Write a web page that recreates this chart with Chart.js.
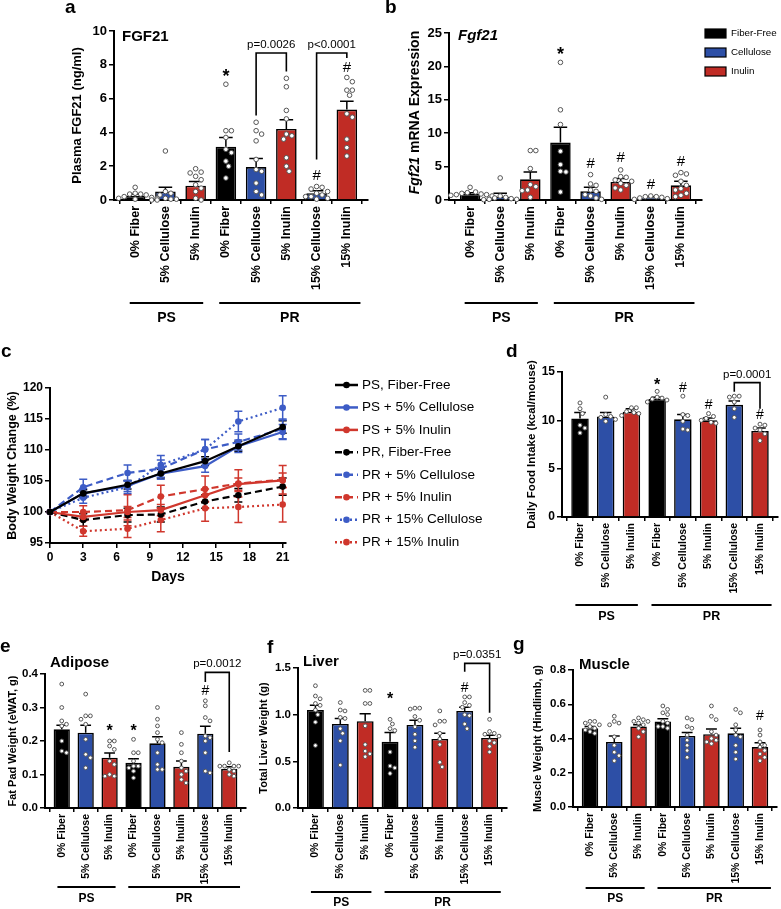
<!DOCTYPE html>
<html><head><meta charset="utf-8">
<script src="https://cdn.jsdelivr.net/npm/chart.js@4.4.1/dist/chart.umd.min.js"></script>
<style>
html,body{margin:0;padding:0;background:#fff;}
#wrap{position:relative;width:781px;height:909px;overflow:hidden;background:#fff;}
canvas{position:absolute;}
</style></head><body><div id="wrap"></div>
<script>
// ================= DATA =================
const groupLabels = ['0% Fiber','5% Cellulose','5% Inulin','0% Fiber','5% Cellulose','5% Inulin','15% Cellulose','15% Inulin'];
const dietLabels = ['PS','PR'];
const fiberLegend = ['Fiber-Free','Cellulose','Inulin'];

// (a) Plasma FGF21 (ng/ml)
const fgf21Mean = [0.25,0.5,0.85,3.15,1.95,4.2,0.4,5.35];
const fgf21Sem  = [0.1,0.25,0.25,0.55,0.5,0.55,0.15,0.5];
const fgf21Dots = [
  [0.75,0.4,0.35,0.35,0.3,0.2,0.15,0.1,0.05,0.1],
  [2.9,0.5,0.4,0.3,0.1,0.05,0.0,0.05,0.0],
  [1.85,1.65,1.6,1.4,1.2,0.9,0.7,0.5,0.1,0.0],
  [6.85,4.1,4.1,3.7,3.0,2.8,2.3,2.0,1.3],
  [4.6,4.1,3.9,3.5,2.4,1.8,1.7,1.0,0.5,0.3],
  [7.2,6.7,5.3,4.8,3.9,3.8,3.6,2.5,2.0,1.7],
  [0.8,0.75,0.65,0.5,0.4,0.3,0.2,0.2,0.1,0.05],
  [7.25,7.0,6.5,6.5,6.2,5.1,4.9,3.6,3.1,2.6]];
const fgf21Marks = [{g:3,t:'*',v:7.55},{g:6,t:'#',v:1.5},{g:7,t:'#',v:7.9}];
const fgf21Pvals = [{g1:4,g2:5,top:8.7,l:5.0,r:7.6,text:'p=0.0026'},{g1:6,g2:7,top:8.7,l:2.4,r:8.4,text:'p<0.0001'}];

// (b) Fgf21 mRNA expression
const mrnaMean = [0.9,0.5,3.1,8.6,1.3,2.7,0.35,2.2];
const mrnaSem  = [0.2,0.5,1.1,2.3,0.6,0.5,0.15,0.6];
const mrnaDots = [
  [1.9,1.2,1.1,1.0,0.9,0.8,0.8,0.7,0.6,0.5],
  [3.3,0.6,0.4,0.3,0.2,0.1,0.1,0.05],
  [7.4,7.4,4.7,2.3,2.0,1.5,1.4,0.4],
  [20.6,13.5,11.3,7.3,5.3,4.3,4.2,1.2],
  [3.8,2.4,2.2,1.5,1.3,0.8,0.6,0.3,0.1],
  [4.5,3.5,3.4,3.0,2.8,2.5,2.2,1.8,1.5],
  [0.6,0.5,0.5,0.4,0.3,0.2,0.1],
  [4.1,3.9,3.7,2.8,2.2,1.7,1.5,1.0,0.7,0.5]];
const mrnaMarks = [{g:3,t:'*',v:22.4},{g:4,t:'#',v:5.6},{g:5,t:'#',v:6.5},{g:6,t:'#',v:2.5},{g:7,t:'#',v:5.9}];

// (c) Body weight change (%)
const days = [0,3,7,10,14,17,21];
const bwSeriesNames = ['PS, Fiber-Free','PS + 5% Cellulose','PS + 5% Inulin','PR, Fiber-Free','PR + 5% Cellulose','PR + 5% Inulin','PR + 15% Cellulose','PR + 15% Inulin'];
const bwPSFiberFree = [100,103.0,104.4,106.2,108.2,110.6,113.7];
const bwPSCell5     = [100,103.0,104.2,106.2,107.4,110.6,112.9];
const bwPSInulin5   = [100,99.2,100.0,100.3,102.7,104.5,105.1];
const bwPRFiberFree = [100,98.7,99.5,99.6,101.7,102.7,104.1];
const bwPRCell5     = [100,104.0,106.3,107.0,110.1,111.3,113.4];
const bwPRInulin5   = [100,100.0,100.3,102.5,103.7,104.6,105.2];
const bwPRCell15    = [100,102.3,104.0,107.6,110.1,114.6,116.8];
const bwPRInulin15  = [100,96.9,97.3,98.7,100.6,100.8,101.2];
const bwErrPSFiberFree = [0,0.6,0.7,0.7,0.7,0.8,1.0];
const bwErrPSCell5     = [0,0.8,0.9,0.9,1.0,1.0,1.2];
const bwErrPSInulin5   = [0,0.6,0.9,0.9,1.0,1.0,1.2];
const bwErrPRFiberFree = [0,1.0,1.1,1.2,1.1,1.1,1.4];
const bwErrPRCell5     = [0,1.3,1.3,1.4,1.6,1.3,1.6];
const bwErrPRInulin5   = [0,1.0,2.5,1.8,2.1,2.2,2.3];
const bwErrPRCell15    = [0,0.9,1.0,1.5,1.6,1.65,1.95];
const bwErrPRInulin15  = [0,0.8,1.4,1.9,2.1,2.5,2.8];

// (d) Daily food intake (kcal/mouse)
const intakeMean = [10.2,10.4,10.9,12.2,10.1,10.0,11.6,8.9];
const intakeSem  = [0.6,0.4,0.3,0.2,0.5,0.25,0.4,0.3];
const intakeDots = [
  [11.8,11.2,10.7,9.5,9.2,8.7],
  [12.4,10.6,10.4,10.3,10.1,9.9],
  [11.3,11.3,10.9,10.8,10.7,10.5],
  [13.0,12.4,12.3,12.2,12.1,11.9],
  [12.5,10.6,10.5,9.9,9.1,9.0],
  [10.7,10.4,10.2,10.0,9.8,9.7],
  [12.5,12.5,12.4,11.9,11.2,10.3],
  [9.6,9.5,9.2,9.0,8.6,7.9]];
const intakeMarks = [{g:3,t:'*',v:14.0},{g:4,t:'#',v:13.5},{g:5,t:'#',v:11.7},{g:7,t:'#',v:10.7}];
const intakePvals = [{g1:6,g2:7,top:13.9,l:12.95,r:11.2,text:'p=0.0001'}];

// (e) Fat pad weight (eWAT, g)
const fatMean = [0.235,0.225,0.15,0.135,0.193,0.123,0.222,0.117];
const fatSem  = [0.012,0.022,0.014,0.012,0.02,0.017,0.022,0.006];
const fatDots = [
  [0.37,0.30,0.26,0.25,0.245,0.2,0.17,0.165],
  [0.34,0.275,0.275,0.265,0.25,0.205,0.16,0.15,0.12],
  [0.2,0.2,0.185,0.175,0.14,0.13,0.095,0.095,0.1],
  [0.205,0.165,0.165,0.14,0.125,0.125,0.11,0.09,0.12],
  [0.3,0.265,0.245,0.225,0.205,0.195,0.165,0.13,0.115,0.115],
  [0.225,0.19,0.165,0.14,0.12,0.11,0.1,0.085,0.075],
  [0.32,0.305,0.27,0.26,0.215,0.21,0.2,0.165,0.11,0.105],
  [0.135,0.125,0.125,0.125,0.125,0.115,0.11,0.1,0.095]];
const fatMarks = [{g:2,t:'*',v:0.24},{g:3,t:'*',v:0.24},{g:6,t:'#',v:0.352}];
const fatPvals = [{g1:6,g2:7,top:0.405,l:0.376,r:0.167,text:'p=0.0012'}];

// (f) Total liver weight (g)
const liverMean = [1.05,0.9,0.93,0.71,0.89,0.74,1.04,0.75];
const liverSem  = [0.05,0.06,0.08,0.1,0.05,0.06,0.04,0.03];
const liverDots = [
  [1.31,1.2,1.17,1.12,1.1,1.05,1.0,0.92,0.67],
  [1.13,1.05,1.04,0.97,0.96,0.85,0.8,0.72,0.46],
  [1.26,1.26,1.12,1.12,0.88,0.68,0.61,0.55,0.58],
  [0.95,0.9,0.85,0.83,0.6,0.45,0.43,0.37],
  [1.07,1.07,1.06,0.98,0.94,0.87,0.79,0.72,0.65],
  [1.04,0.93,0.93,0.89,0.8,0.74,0.68,0.49,0.44],
  [1.19,1.19,1.13,1.1,1.08,1.0,0.99,0.9,0.85],
  [0.95,0.82,0.8,0.79,0.77,0.72,0.7,0.66,0.6]];
const liverMarks = [{g:3,t:'*',v:1.21},{g:6,t:'#',v:1.3}];
const liverPvals = [{g1:6,g2:7,top:1.55,l:1.46,r:1.02,text:'p=0.0351'}];

// (g) Muscle weight (hindlimb, g)
const muscleMean = [0.46,0.38,0.47,0.50,0.415,0.425,0.43,0.35];
const muscleSem  = [0.01,0.035,0.01,0.015,0.02,0.03,0.03,0.025];
const muscleDots = [
  [0.5,0.5,0.49,0.48,0.47,0.46,0.45,0.44,0.43],
  [0.53,0.5,0.49,0.48,0.41,0.36,0.32,0.3,0.27],
  [0.52,0.51,0.5,0.5,0.49,0.48,0.46,0.44,0.41],
  [0.59,0.57,0.55,0.54,0.5,0.49,0.47,0.47,0.46],
  [0.52,0.51,0.47,0.46,0.42,0.39,0.36,0.33,0.29],
  [0.59,0.53,0.51,0.44,0.42,0.4,0.39,0.38,0.37],
  [0.57,0.55,0.48,0.45,0.42,0.41,0.36,0.32,0.28],
  [0.45,0.42,0.38,0.36,0.35,0.33,0.31,0.29,0.27]];
const muscleMarks = [{g:7,t:'#',v:0.54}];
const musclePvals = [];

// ================= STYLE / LAYOUT =================
const FONT = "'Liberation Sans', Arial, Helvetica, sans-serif";
Chart.defaults.font.family = FONT;
Chart.defaults.color = '#000';
const BLACK='#000000', BLUE='#2d4fa6', RED='#c02c25';
const barColors = [BLACK,BLUE,RED,BLACK,BLUE,RED,BLUE,RED];
const LBLUE='#3d5cc6', LRED='#d0372d';
const wrap = document.getElementById('wrap');

function mkCanvas(box){
  const c=document.createElement('canvas');
  c.width=box[2]; c.height=box[3];
  c.style.left=box[0]+'px'; c.style.top=box[1]+'px';
  c.style.width=box[2]+'px'; c.style.height=box[3]+'px';
  wrap.appendChild(c); return c;
}

// deterministic swarm placement (no randomness): spreads overlapping dots sideways
function swarm(vals, r, pxX, pxY){
  const d = 2*r + 0.9, placed=[], out=[];
  const order = vals.map((v,i)=>i).sort((a,b)=>vals[b]-vals[a]);
  for (const i of order){
    const py = vals[i]*pxY; let pos=0;
    for (let k=0;k<30;k++){
      const cands = k===0?[0]:[k*d*0.5,-k*d*0.5];
      let ok=null;
      for (const c of cands){ if (placed.every(q=>Math.hypot(q.x-c,q.y-py)>=d)){ok=c;break;} }
      if (ok!==null){pos=ok;break;}
    }
    placed.push({x:pos,y:py});
    out.push({v:vals[i], dx:pos/pxX});
  }
  return out;
}

const XMIN=-0.7, XMAX=7.7;
const groupSpans = [[-0.18,2.25],[2.78,7.45]];

function barPanel(P){
  const cv = mkCanvas(P.box);
  const [bx,by,bw,bh] = P.box;
  const [pl,pt,pr,pb] = P.plot;
  const padLeft = P.yTitleX - bx - P.yTitleSize*0.6;
  const yAxisW = pl - bx - padLeft;
  const xAxisH = by + bh - pb;
  const padRight = bx + bw - pr;
  const pxX = (pr-pl)/(XMAX-XMIN), pxY=(pb-pt)/(P.yMax-P.yMin);
  const pts=[];
  P.dots.forEach((arr,g)=>swarm(arr,P.r,pxX,pxY).forEach(p=>pts.push({x:g+p.dx,y:p.v})));
  const plugin = {
    id:'annot'+P.id,
    afterDatasetDraw(chart,args){
      if (args.meta.type!=='bar') return;
      const ctx=chart.ctx, ys=chart.scales.y;
      ctx.save(); ctx.strokeStyle='#000'; ctx.lineWidth=1.5;
      args.meta.data.forEach((bar,i)=>{
        const x=bar.x, y0=ys.getPixelForValue(P.mean[i]), y1=ys.getPixelForValue(P.mean[i]+P.sem[i]);
        const hw=bar.width*0.33;
        ctx.beginPath(); ctx.moveTo(x,y0); ctx.lineTo(x,y1); ctx.moveTo(x-hw,y1); ctx.lineTo(x+hw,y1); ctx.stroke();
      });
      ctx.restore();
    },
    afterDraw(chart){
      const ctx=chart.ctx, xs=chart.scales.x, ys=chart.scales.y;
      ctx.save(); ctx.fillStyle='#000'; ctx.strokeStyle='#000';
      ctx.textAlign='left'; ctx.textBaseline='alphabetic';
      ctx.font=`bold 19px ${FONT}`; ctx.fillText(P.letter[0], P.letter[1]-bx, P.letter[2]-by);
      if (P.title){ ctx.font=`${P.title[4]?'italic ':''}bold ${P.title[3]}px ${FONT}`; ctx.fillText(P.title[0],P.title[1]-bx,P.title[2]-by); }
      if (P.customYTitle){
        const c=P.customYTitle; ctx.save(); ctx.translate(c.x-bx, c.y-by); ctx.rotate(-Math.PI/2);
        ctx.textBaseline='middle';
        const f1=`italic bold ${c.size}px ${FONT}`, f2=`bold ${c.size}px ${FONT}`;
        ctx.font=f1; const w1=ctx.measureText(c.a).width; ctx.font=f2; const w2=ctx.measureText(c.b).width;
        let x0=-(w1+w2)/2; ctx.font=f1; ctx.fillText(c.a,x0,0); ctx.font=f2; ctx.fillText(c.b,x0+w1,0);
        ctx.restore();
      }
      ctx.textAlign='center';
      P.marks.forEach(m=>{
        const x=xs.getPixelForValue(m.g), y=ys.getPixelForValue(m.v);
        if (m.t==='*'){ ctx.font=`bold ${P.starSize}px ${FONT}`; ctx.fillText('*',x,y+P.starSize*0.55); }
        else { ctx.font=`${P.hashSize}px ${FONT}`; ctx.fillText('#',x,y+P.hashSize*0.36); }
      });
      ctx.lineWidth=1.6;
      P.pvals.forEach(b=>{
        const x1=xs.getPixelForValue(b.g1), x2=xs.getPixelForValue(b.g2);
        const yt=ys.getPixelForValue(b.top), yl=ys.getPixelForValue(b.l), yr=ys.getPixelForValue(b.r);
        ctx.beginPath(); ctx.moveTo(x1,yl); ctx.lineTo(x1,yt); ctx.lineTo(x2,yt); ctx.lineTo(x2,yr); ctx.stroke();
        ctx.font=`11.5px ${FONT}`; ctx.fillText(b.text,(x1+x2)/2,yt-5);
      });
      ctx.lineWidth=2;
      groupSpans.forEach((s,k)=>{
        const xa=xs.getPixelForValue(s[0]), xb=xs.getPixelForValue(s[1]);
        ctx.beginPath(); ctx.moveTo(xa,P.groupY-by); ctx.lineTo(xb,P.groupY-by); ctx.stroke();
        ctx.font=`bold ${P.groupFont}px ${FONT}`; ctx.textBaseline='middle';
        ctx.fillText(dietLabels[k],(xa+xb)/2,P.groupTextY-by);
        ctx.textBaseline='alphabetic';
      });
      if (P.legend){
        const L=P.legend; ctx.textAlign='left'; ctx.textBaseline='middle'; ctx.font=`${L.size}px ${FONT}`;
        fiberLegend.forEach((t,i)=>{
          const y=L.y0+i*L.dy-by;
          ctx.fillStyle=[BLACK,BLUE,RED][i]; ctx.fillRect(L.x-bx,y-L.h/2,L.w,L.h);
          ctx.lineWidth=1.2; ctx.strokeStyle='#000'; ctx.strokeRect(L.x-bx,y-L.h/2,L.w,L.h);
          ctx.fillStyle='#000'; ctx.fillText(t,L.tx-bx,y);
        });
      }
      ctx.restore();
    }
  };
  new Chart(cv,{
    type:'bar',
    data:{datasets:[
      {type:'scatter',data:pts,order:0,pointRadius:P.r,pointHoverRadius:P.r,pointBackgroundColor:'#fff',pointBorderColor:'#555',pointBorderWidth:1,clip:false},
      {type:'bar',data:P.mean.map((v,i)=>({x:i,y:v})),order:1,backgroundColor:barColors,borderColor:'#000',borderWidth:1.6,borderSkipped:'start',categoryPercentage:1,barPercentage:0.68,clip:false}
    ]},
    options:{
      responsive:false, animation:false, devicePixelRatio:1,
      layout:{padding:{left:padLeft,top:pt-by,right:padRight,bottom:0}},
      plugins:{legend:{display:false},tooltip:{enabled:false}},
      scales:{
        x:{type:'linear',min:XMIN,max:XMAX,offset:false,
           grid:{display:true,drawOnChartArea:false,drawTicks:true,tickLength:4,color:'#000',lineWidth:1.5},
           border:{display:true,color:'#000',width:2},
           afterBuildTicks:s=>{s.ticks=groupLabels.map((_,i)=>({value:i}));},
           afterFit:s=>{s.height=xAxisH;},
           ticks:{autoSkip:false,minRotation:90,maxRotation:90,padding:2,color:'#000',
                  font:{size:P.xLabelSize,weight:'bold'},callback:(v,i)=>groupLabels[i]}},
        y:{type:'linear',min:P.yMin,max:P.yMax,
           grid:{display:true,drawOnChartArea:false,drawTicks:true,tickLength:5,color:'#000',lineWidth:1.5},
           border:{display:true,color:'#000',width:2},
           afterFit:s=>{s.width=yAxisW;},
           ticks:{stepSize:P.yStep,padding:2,color:'#000',font:{size:P.tickSize,weight:'bold'},callback:v=>v.toFixed(P.dec)},
           title:{display:!P.customYTitle,text:P.yTitle,color:'#000',padding:{top:0,bottom:0},font:{size:P.yTitleSize,weight:'bold'}}}
      }
    },
    plugins:[plugin]
  });
}

// (a)
barPanel({id:'a',box:[0,0,390,330],plot:[114,31,368,200],yMin:0,yMax:10,yStep:2,dec:0,
  mean:fgf21Mean,sem:fgf21Sem,dots:fgf21Dots,marks:fgf21Marks,pvals:fgf21Pvals,
  yTitle:'Plasma FGF21 (ng/ml)',yTitleX:77,yTitleSize:13,tickSize:13,xLabelSize:12.5,r:2.3,
  letter:['a',65,13],title:['FGF21',122,41,15,false],starSize:18,hashSize:15,
  groupY:303,groupTextY:318,groupFont:14});
// (b)
barPanel({id:'b',box:[380,0,401,330],plot:[449,33,702,200],yMin:0,yMax:25,yStep:5,dec:0,
  mean:mrnaMean,sem:mrnaSem,dots:mrnaDots,marks:mrnaMarks,pvals:[],
  yTitle:'',yTitleX:396,yTitleSize:13,tickSize:13,xLabelSize:12.5,r:2.3,
  customYTitle:{a:'Fgf21',b:' mRNA Expression',x:415,y:112.5,size:14},
  letter:['b',385,13],title:['Fgf21',458,40,15,true],starSize:18,hashSize:15,
  groupY:303,groupTextY:318,groupFont:14,
  legend:{x:705,w:21,h:9,y0:33.5,dy:19,tx:731,size:9.8}});
// (d)
barPanel({id:'d',box:[490,330,291,300],plot:[562,372,779,517],yMin:0,yMax:15,yStep:5,dec:0,
  mean:intakeMean,sem:intakeSem,dots:intakeDots,marks:intakeMarks,pvals:intakePvals,
  yTitle:'Daily Food Intake (kcal/mouse)',yTitleX:532,yTitleSize:11.5,tickSize:12,xLabelSize:10.5,r:2,
  letter:['d',506,357],title:null,starSize:16,hashSize:14,
  groupY:605,groupTextY:617,groupFont:12.5});
// (e)
barPanel({id:'e',box:[0,630,260,279],plot:[45,674,246,808],yMin:0,yMax:0.4,yStep:0.1,dec:1,
  mean:fatMean,sem:fatSem,dots:fatDots,marks:fatMarks,pvals:fatPvals,
  yTitle:'Fat Pad Weight (eWAT, g)',yTitleX:13,yTitleSize:11,tickSize:11.5,xLabelSize:10.5,r:1.9,
  letter:['e',0,652],title:['Adipose',50,667,15,false],starSize:16,hashSize:14,
  groupY:887,groupTextY:899,groupFont:12});
// (f)
barPanel({id:'f',box:[250,630,270,279],plot:[298,668,507,808],yMin:0,yMax:1.5,yStep:0.5,dec:1,
  mean:liverMean,sem:liverSem,dots:liverDots,marks:liverMarks,pvals:liverPvals,
  yTitle:'Total Liver Weight (g)',yTitleX:264,yTitleSize:11,tickSize:11.5,xLabelSize:10.5,r:1.9,
  letter:['f',267,653],title:['Liver',303,666,15,false],starSize:16,hashSize:14,
  groupY:892,groupTextY:903,groupFont:12});
// (g)
barPanel({id:'g',box:[510,630,271,279],plot:[573,670,777,807],yMin:0,yMax:0.8,yStep:0.2,dec:1,
  mean:muscleMean,sem:muscleSem,dots:muscleDots,marks:muscleMarks,pvals:musclePvals,
  yTitle:'Muscle Weight (Hindlimb, g)',yTitleX:538,yTitleSize:11,tickSize:11.5,xLabelSize:10.5,r:1.9,
  letter:['g',513,650],title:['Muscle',579,669,15,false],starSize:16,hashSize:14,
  groupY:888,groupTextY:899,groupFont:12});

// (c) line chart
(function(){
  const box=[0,330,500,260]; const [bx,by,bw,bh]=box;
  const plot=[50,388,286,543];
  const cv=mkCanvas(box);
  const series=[bwPSFiberFree,bwPSCell5,bwPSInulin5,bwPRFiberFree,bwPRCell5,bwPRInulin5,bwPRCell15,bwPRInulin15];
  const errs=[bwErrPSFiberFree,bwErrPSCell5,bwErrPSInulin5,bwErrPRFiberFree,bwErrPRCell5,bwErrPRInulin5,bwErrPRCell15,bwErrPRInulin15];
  const colors=[BLACK,LBLUE,LRED,BLACK,LBLUE,LRED,LBLUE,LRED];
  const dashes=[[],[],[],[7,4],[7,4],[7,4],[2,3],[2,3]];
  const yTitleSize=12.5, xTitleSize=14;
  const padLeft=13-yTitleSize*0.6;
  const padBottom=bh-((577-by)+xTitleSize*0.6);
  const plugin={
    id:'bwAnnot',
    beforeDatasetsDraw(chart){
      const ctx=chart.ctx, xs=chart.scales.x, ys=chart.scales.y;
      ctx.save(); ctx.lineWidth=1.5; ctx.setLineDash([]);
      series.forEach((s,k)=>{
        ctx.strokeStyle=colors[k];
        s.forEach((v,i)=>{
          if(!errs[k][i]) return;
          const x=xs.getPixelForValue(days[i]), y1=ys.getPixelForValue(v+errs[k][i]), y2=ys.getPixelForValue(v-errs[k][i]);
          ctx.beginPath(); ctx.moveTo(x,y1); ctx.lineTo(x,y2);
          ctx.moveTo(x-4,y1); ctx.lineTo(x+4,y1); ctx.moveTo(x-4,y2); ctx.lineTo(x+4,y2); ctx.stroke();
        });
      });
      ctx.restore();
    },
    afterDraw(chart){
      const ctx=chart.ctx; ctx.save();
      ctx.fillStyle='#000'; ctx.font=`bold 19px ${FONT}`; ctx.textBaseline='alphabetic'; ctx.textAlign='left';
      ctx.fillText('c',1,357-by);
      ctx.font=`13.5px ${FONT}`; ctx.textBaseline='middle';
      bwSeriesNames.forEach((t,i)=>{
        const y=385+i*22.45-by;
        ctx.strokeStyle=colors[i]; ctx.lineWidth=2.5; ctx.setLineDash(dashes[i]);
        ctx.beginPath(); ctx.moveTo(335,y); ctx.lineTo(358,y); ctx.stroke(); ctx.setLineDash([]);
        ctx.fillStyle=colors[i]; ctx.beginPath(); ctx.arc(346.5,y,3.3,0,Math.PI*2); ctx.fill();
        ctx.fillStyle='#000'; ctx.fillText(t,362,y);
      });
      ctx.restore();
    }
  };
  new Chart(cv,{
    type:'line',
    data:{datasets:series.map((s,k)=>({
      label:bwSeriesNames[k], data:s.map((v,i)=>({x:days[i],y:v})),
      borderColor:colors[k], backgroundColor:colors[k], borderWidth:2.2, borderDash:dashes[k],
      pointRadius:3.3, pointHoverRadius:3.3, pointBackgroundColor:colors[k], pointBorderColor:colors[k], pointBorderWidth:0,
      tension:0, fill:false, clip:false}))},
    options:{
      responsive:false, animation:false, devicePixelRatio:1,
      layout:{padding:{left:padLeft,top:plot[1]-by,right:bx+bw-plot[2],bottom:padBottom}},
      plugins:{legend:{display:false},tooltip:{enabled:false}},
      scales:{
        x:{type:'linear',min:0,max:21.3,
           grid:{display:true,drawOnChartArea:false,drawTicks:true,tickLength:5,color:'#000',lineWidth:1.5},
           border:{display:true,color:'#000',width:2},
           afterBuildTicks:s=>{s.ticks=[0,3,6,9,12,15,18,21].map(v=>({value:v}));},
           afterFit:s=>{s.height=(577-by)+xTitleSize*0.6-(plot[3]-by);},
           ticks:{autoSkip:false,maxRotation:0,padding:2,color:'#000',font:{size:12,weight:'bold'},callback:v=>String(v)},
           title:{display:true,text:'Days',color:'#000',padding:{top:0,bottom:0},font:{size:xTitleSize,weight:'bold'}}},
        y:{type:'linear',min:95,max:120,
           grid:{display:true,drawOnChartArea:false,drawTicks:true,tickLength:5,color:'#000',lineWidth:1.5},
           border:{display:true,color:'#000',width:2},
           afterFit:s=>{s.width=plot[0]-bx-padLeft;},
           ticks:{stepSize:5,padding:2,color:'#000',font:{size:12,weight:'bold'}},
           title:{display:true,text:'Body Weight Change (%)',color:'#000',padding:{top:0,bottom:0},font:{size:yTitleSize,weight:'bold'}}}
      }
    },
    plugins:[plugin]
  });
})();
</script>
</body></html>
